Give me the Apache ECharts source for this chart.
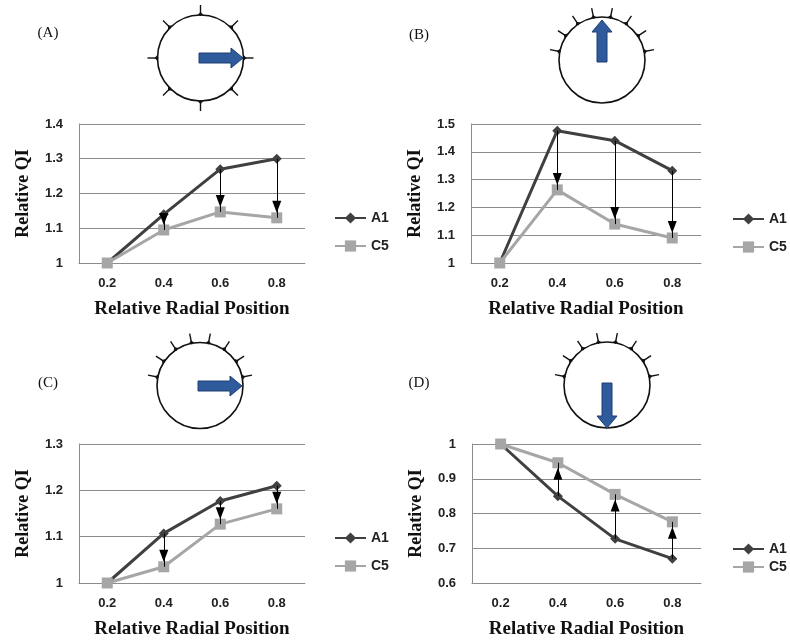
<!DOCTYPE html>
<html>
<head>
<meta charset="utf-8">
<script src="https://cdn.jsdelivr.net/npm/echarts@6/dist/echarts.min.js"></script>
<style>html,body{margin:0;padding:0;background:#fff}#c{width:790px;height:643px}</style>
</head>
<body>
<div id="c"></div>
<script>
// ---- data ----
var categories = ['0.2', '0.4', '0.6', '0.8'];
var A_A1 = [1.0, 1.14, 1.27, 1.30];
var A_C5 = [1.0, 1.095, 1.147, 1.13];
var B_A1 = [1.0, 1.476, 1.44, 1.332];
var B_C5 = [1.0, 1.263, 1.14, 1.09];
var C_A1 = [1.0, 1.107, 1.177, 1.21];
var C_C5 = [1.0, 1.035, 1.127, 1.16];
var D_A1 = [1.0, 0.85, 0.727, 0.67];
var D_C5 = [1.0, 0.946, 0.855, 0.776];
var yMin = [1, 1, 1, 0.6];
var yMax = [1.4, 1.5, 1.3, 1.0];
var panelLabels = ['(A)', '(B)', '(C)', '(D)'];

var panels = [
  {a1: A_A1, c5: A_C5, grid: {left: 79, top: 124, width: 226, height: 139}, legend: {left: 329, top: 206, gap: 14}},
  {a1: B_A1, c5: B_C5, grid: {left: 471, top: 124, width: 230, height: 139}, legend: {left: 727, top: 207, gap: 14}},
  {a1: C_A1, c5: C_C5, grid: {left: 79, top: 444, width: 226, height: 139}, legend: {left: 329, top: 526, gap: 14}},
  {a1: D_A1, c5: D_C5, grid: {left: 472, top: 444, width: 229, height: 139}, legend: {left: 727, top: 537, gap: 4}}
];

var SANS = 'Liberation Sans';
var SERIF = 'Liberation Serif';
var grids = [], xAxes = [], yAxes = [], series = [], legends = [];
panels.forEach(function (p, i) {
  grids.push(p.grid);
  xAxes.push({
    type: 'category', gridIndex: i, data: categories, boundaryGap: true,
    axisLine: {show: true, lineStyle: {color: '#8c8c8c'}},
    axisTick: {show: false},
    axisLabel: {fontFamily: SANS, fontSize: 13, fontWeight: 'bold', color: '#222', margin: 14},
    name: 'Relative Radial Position', nameLocation: 'middle', nameGap: 37,
    nameTextStyle: {fontFamily: SERIF, fontSize: 19, fontWeight: 'bold', color: '#111'}
  });
  yAxes.push({
    type: 'value', gridIndex: i, min: yMin[i], max: yMax[i], interval: 0.1,
    axisLine: {show: true, lineStyle: {color: '#8c8c8c'}},
    axisTick: {show: false},
    splitLine: {show: true, lineStyle: {color: '#8c8c8c', width: 1}},
    axisLabel: {fontFamily: SANS, fontSize: 13, fontWeight: 'bold', color: '#222', margin: 16},
    name: 'Relative QI', nameLocation: 'middle', nameGap: 47, nameRotate: 90,
    nameTextStyle: {fontFamily: SERIF, fontSize: 18, fontWeight: 'bold', color: '#111'}
  });
  var arrows = [];
  for (var k = 1; k < categories.length; k++) {
    arrows.push([{coord: [k, p.a1[k]]}, {coord: [k, p.c5[k]]}]);
  }
  series.push({
    type: 'line', name: 'A1', xAxisIndex: i, yAxisIndex: i, data: p.a1,
    symbol: 'diamond', symbolSize: 10, z: 2,
    lineStyle: {color: '#404040', width: 3}, itemStyle: {color: '#404040'}
  });
  series.push({
    type: 'line', name: 'C5', xAxisIndex: i, yAxisIndex: i, data: p.c5,
    symbol: 'rect', symbolSize: 11, z: 3,
    lineStyle: {color: '#a6a6a6', width: 3}, itemStyle: {color: '#a6a6a6'},
    markLine: {
      silent: true, animation: false, symbol: ['none', 'triangle'], symbolSize: [9, 12],
      symbolOffset: [[0, 0], [0, 11]],
      lineStyle: {color: '#000', width: 1, type: 'solid'}, itemStyle: {color: '#000'},
      label: {show: false}, emphasis: {disabled: true}, data: arrows
    }
  });
  legends.push({
    left: p.legend.left, top: p.legend.top, orient: 'vertical', itemGap: p.legend.gap,
    itemWidth: 31, itemHeight: 14, data: ['A1', 'C5'], selectedMode: false,
    textStyle: {fontFamily: SANS, fontSize: 14, fontWeight: 'bold', color: '#222'}
  });
});

// ---- schematic circles ----
var diagrams = [
  {cx: 200.5, cy: 58, r: 43, ticks: 'all', arrow: 'right', ax: 199, ay: 58, len: 44},
  {cx: 602, cy: 60, r: 43, ticks: 'top', arrow: 'up', ax: 602, ay: 62, len: 42},
  {cx: 200, cy: 385.5, r: 43, ticks: 'top', arrow: 'right', ax: 198, ay: 386, len: 44},
  {cx: 607, cy: 385, r: 43, ticks: 'top', arrow: 'down', ax: 607, ay: 383, len: 45}
];
var labelPos = [[48, 33], [419, 35], [48, 383], [419, 383]];
var graphics = [];
diagrams.forEach(function (d, i) {
  graphics.push({type: 'circle', shape: {cx: d.cx, cy: d.cy, r: d.r}, style: {fill: '#fff', stroke: '#111', lineWidth: 1.6}, z: 10});
  var angs = [];
  if (d.ticks === 'all') { for (var k = 0; k < 8; k++) angs.push(k * 45); }
  else { for (var k2 = 0; k2 < 8; k2++) angs.push(11.25 + 22.5 * k2); }
  angs.forEach(function (a) {
    var t = a * Math.PI / 180, c = Math.cos(t), s = -Math.sin(t);
    var x1 = d.cx + c * (d.r - 1), y1 = d.cy + s * (d.r - 1);
    var x2 = d.cx + c * (d.r + 10), y2 = d.cy + s * (d.r + 10);
    graphics.push({type: 'line', shape: {x1: x1, y1: y1, x2: x2, y2: y2}, style: {stroke: '#111', lineWidth: 1.4}, z: 11});
    var bx = d.cx + c * (d.r + 3), by = d.cy + s * (d.r + 3);
    graphics.push({type: 'polygon', shape: {points: [[bx, by], [d.cx + c * d.r - s * 3, d.cy + s * d.r + c * 3], [d.cx + c * d.r + s * 3, d.cy + s * d.r - c * 3]]}, style: {fill: '#111'}, z: 11});
  });
  // arrow
  var L = d.len, hs = 5, hh = 10, hl = 12, pts;
  var base = [[0, -hs], [L - hl, -hs], [L - hl, -hh], [L, 0], [L - hl, hh], [L - hl, hs], [0, hs]];
  pts = base.map(function (q) {
    if (d.arrow === 'right') return [d.ax + q[0], d.ay + q[1]];
    if (d.arrow === 'up') return [d.ax + q[1], d.ay - q[0]];
    return [d.ax + q[1], d.ay + q[0]];
  });
  graphics.push({type: 'polygon', shape: {points: pts}, style: {fill: '#2f5a9c', stroke: '#1f3f75', lineWidth: 1}, z: 12});
  graphics.push({type: 'text', x: labelPos[i][0], y: labelPos[i][1], style: {text: panelLabels[i], font: '15px ' + SERIF, fill: '#111', textAlign: 'center', textVerticalAlign: 'middle'}, z: 12});
});

var chart = echarts.init(document.getElementById('c'), null, {renderer: 'canvas'});
chart.setOption({
  animation: false,
  backgroundColor: '#fff',
  grid: grids, xAxis: xAxes, yAxis: yAxes, series: series, legend: legends,
  graphic: graphics
});
</script>
</body>
</html>
